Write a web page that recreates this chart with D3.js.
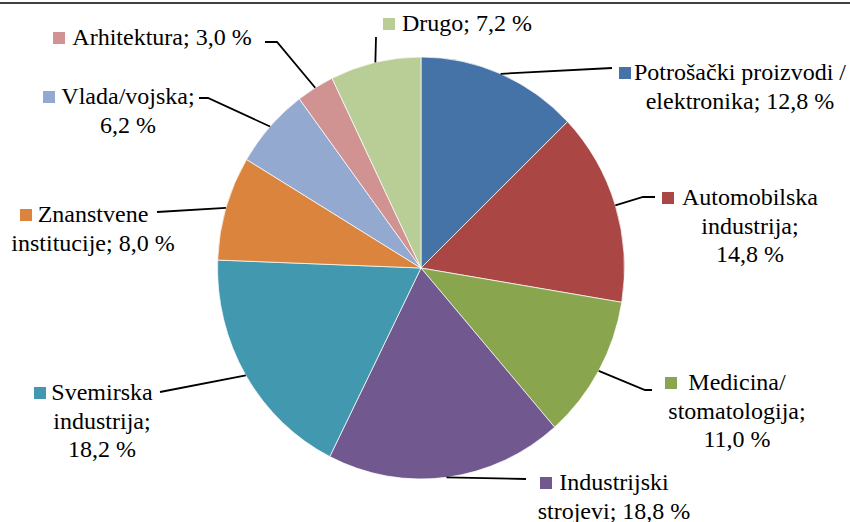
<!DOCTYPE html>
<html>
<head>
<meta charset="utf-8">
<script src="https://cdn.jsdelivr.net/npm/d3@7"></script>
</head>
<body style="margin:0">
<div id="chart"></div>
<script>
const width = 850,
  height = 522;

// data (clockwise from 12 o'clock)
const categories = ['Potrošački proizvodi / elektronika', 'Automobilska industrija',
  'Medicina/ stomatologija', 'Industrijski strojevi', 'Svemirska industrija',
  'Znanstvene institucije', 'Vlada/vojska', 'Arhitektura', 'Drugo'];
const values = [12.8, 14.8, 11.0, 18.8, 18.2, 8.0, 6.2, 3.0, 7.2];
const colors = ['#4572A7', '#AA4643', '#89A54E', '#71588F', '#4198AF',
  '#DB843D', '#93A9CF', '#D19392', '#B9CD96'];

// label layout: key x, text centre, first baseline, words per line, leader elbows
const labelLayout = [
  { kx: 619, cx: 740, y: 80, lines: [3, 3], leader: [[612, 68]] },
  { kx: 662, cx: 750, y: 205, lines: [1, 1, 2], leader: [[643, 197], [655, 197]] },
  { kx: 665, cx: 737, y: 390, lines: [1, 1, 2], leader: [[645, 390], [652, 390]] },
  { kx: 540, cx: 614, y: 490, lines: [1, 3], leader: [[526, 479]] },
  { kx: 34, cx: 102, y: 400, lines: [1, 1, 2], leader: [[160, 392]] },
  { kx: 20, cx: 93, y: 222, lines: [1, 3], leader: [[157, 212]] },
  { kx: 43, cx: 128, y: 104, lines: [1, 2], leader: [[208, 98], [199, 98]] },
  { kx: 53, cx: 162, y: 45, lines: [3], leader: [[277, 42], [265, 42]] },
  { kx: 383, cx: 467, y: 31, lines: [3], leader: [[376, 37]] }];

const cx = 421, cy = 268, rx = 203.5, ry = 211;
const ky = ry / rx;
const lineH = 28.5;
const fmt = v => d3.format('.1f')(v).replace('.', ',');

const svg = d3.select('#chart').
append('svg').
attr('width', width).
attr('height', height);

// top rule of the frame
svg.append('line').
attr('x1', 0).attr('x2', width).
attr('y1', 3).attr('y2', 3).
attr('stroke', '#000').
attr('stroke-width', 1.5);

const color = d3.scaleOrdinal().domain(categories).range(colors);

const pie = d3.pie().value(d => d.value).sort(null);
const arcs = pie(categories.map((c, i) => ({ name: c, value: values[i], i })));

const arc = d3.arc().innerRadius(0).outerRadius(rx);
const edge = d3.arc().innerRadius(rx).outerRadius(rx);

const pieG = svg.append('g').
attr('transform', `translate(${cx},${cy}) scale(1,${ky})`);

pieG.selectAll('path').
data(arcs).
enter().
append('path').
attr('d', arc).
attr('fill', d => color(d.data.name)).
attr('stroke', '#fff').
attr('stroke-width', 0.7);

// leader lines
svg.selectAll('.leader').
data(arcs).
enter().
append('polyline').
attr('class', 'leader').
attr('fill', 'none').
attr('stroke', '#000').
attr('stroke-width', 1.8).
attr('points', d => {
  const c = edge.centroid(d);
  const start = [cx + c[0], cy + c[1] * ky];
  return [start].concat(labelLayout[d.data.i].leader).map(p => p.join(',')).join(' ');
});

// labels
arcs.forEach(d => {
  const lay = labelLayout[d.data.i];
  const words = (d.data.name + '; ' + fmt(d.data.value) + ' %').split(' ');
  const lines = [];
  let k = 0;
  lay.lines.forEach(n => {
    lines.push(words.slice(k, k + n).join(' '));
    k += n;
  });

  const g = svg.append('g').attr('class', 'label');

  g.append('rect').
  attr('x', lay.kx).
  attr('y', lay.y - 13).
  attr('width', 12).
  attr('height', 12).
  attr('fill', color(d.data.name));

  g.selectAll('text').
  data(lines).
  enter().
  append('text').
  attr('x', lay.cx).
  attr('y', (t, j) => lay.y + j * lineH).
  attr('text-anchor', 'middle').
  style('font-family', "'Liberation Serif'").
  style('font-size', '24px').
  text(t => t);
});
</script>
</body>
</html>
